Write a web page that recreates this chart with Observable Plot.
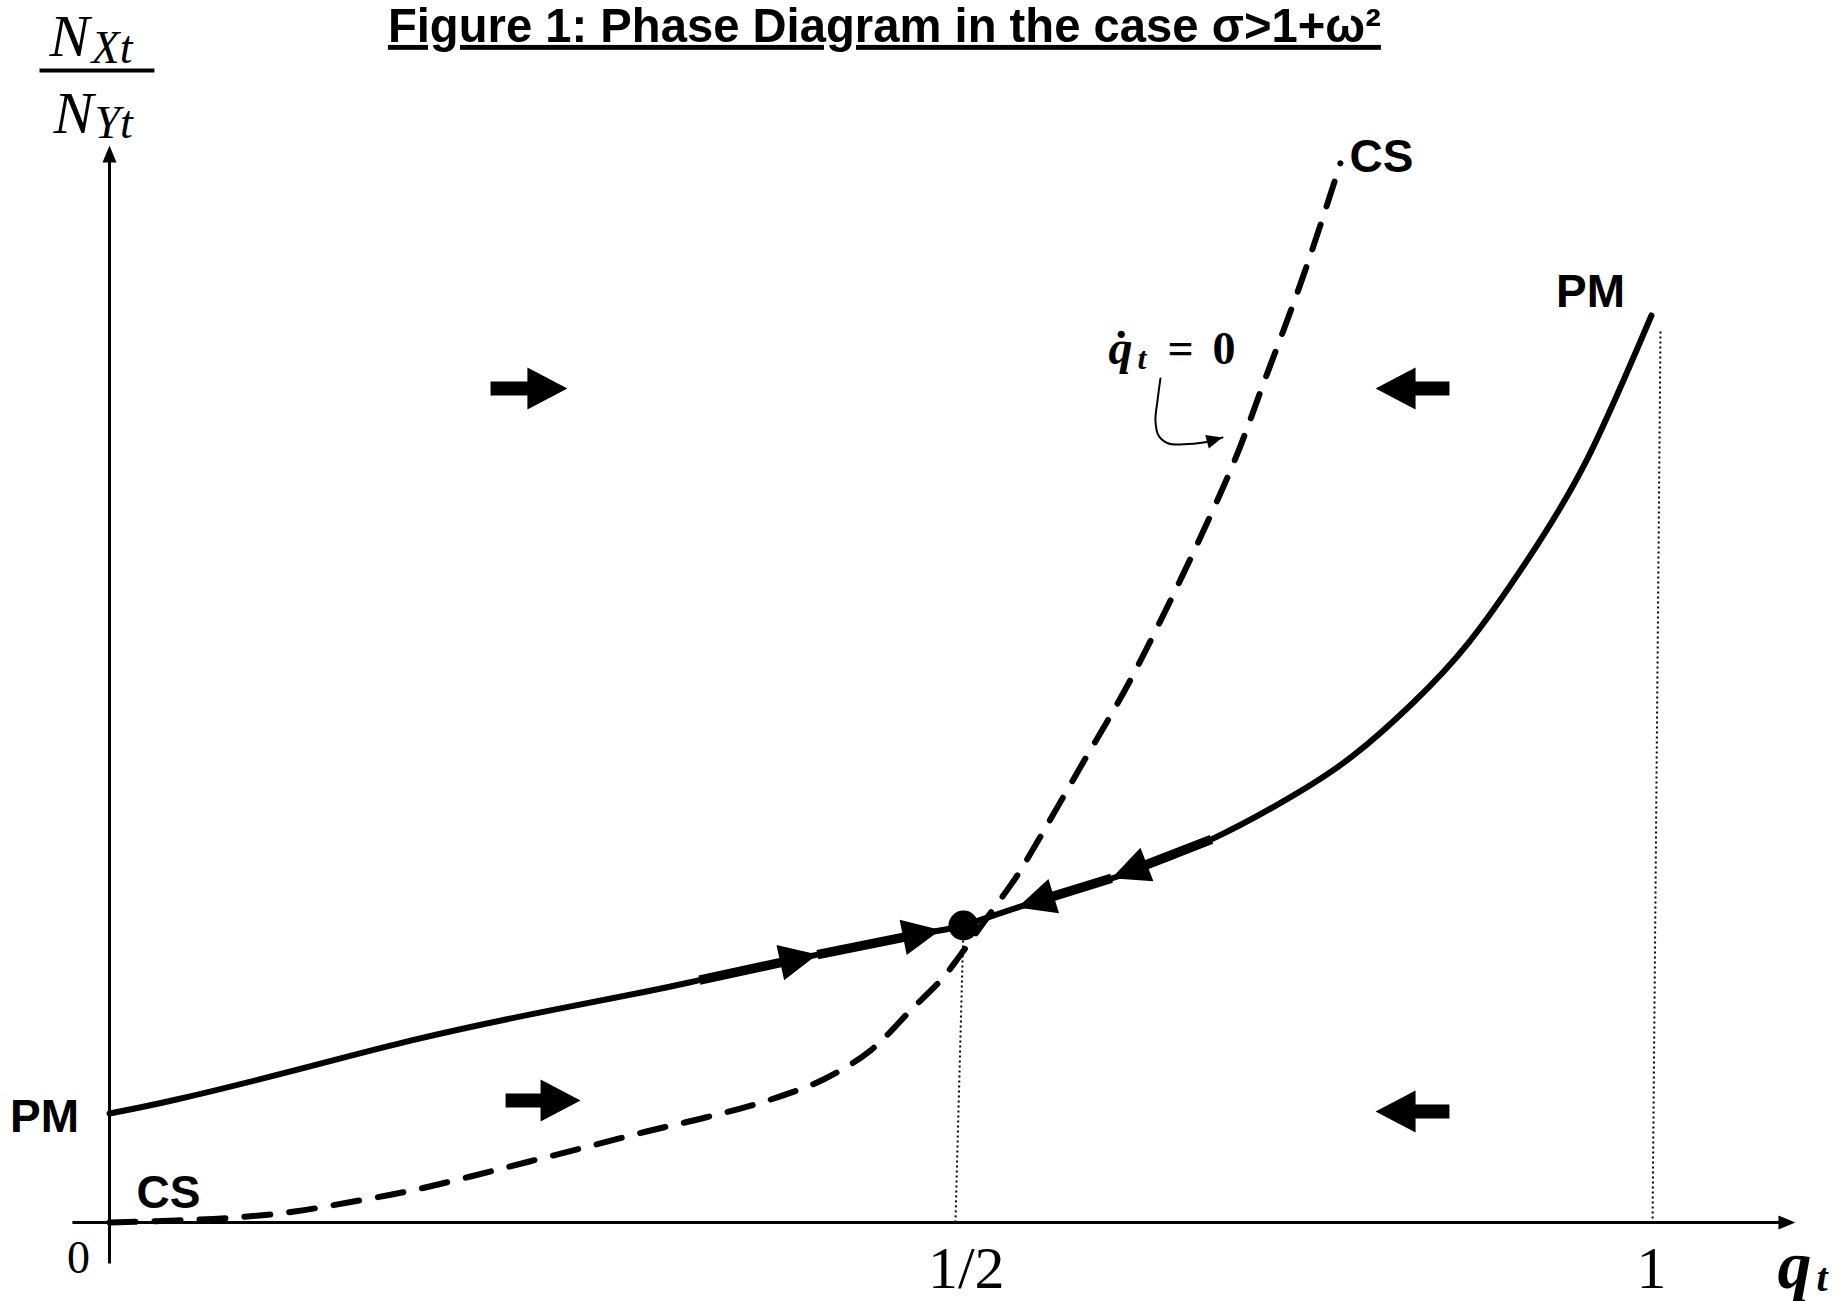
<!DOCTYPE html>
<html>
<head>
<meta charset="utf-8">
<script src="https://cdn.jsdelivr.net/npm/d3@7"></script>
<script src="https://cdn.jsdelivr.net/npm/@observablehq/plot@0.6"></script>
<style>
  html, body { margin: 0; padding: 0; background: #fff; }
  #chart svg { display: block; }
</style>
</head>
<body>
<div id="chart"></div>
<script>
// ---------- data (q = x value, ratio = N_X/N_Y) ----------
const pmQ     = [0, 0.0392, 0.1083, 0.1768, 0.2459, 0.3144, 0.3454, 0.4040, 0.4731, 0.5, 0.5430, 0.6105, 0.6779, 0.7367, 0.7790, 0.8214, 0.8630, 0.9053, 0.9476, 0.9935];
const pmRatio = [0.367, 0.414, 0.512, 0.613, 0.700, 0.778, 0.816, 0.889, 0.970, 1.0, 1.067, 1.165, 1.290, 1.438, 1.570, 1.745, 1.956, 2.236, 2.572, 3.054];

const csQ     = [0, 0.0392, 0.0738, 0.1083, 0.1429, 0.1768, 0.2114, 0.2459, 0.2804, 0.3144, 0.3489, 0.3835, 0.4180, 0.4455, 0.4690, 0.4877, 0.4971, 0.5129, 0.5352, 0.5430, 0.5825, 0.6234, 0.6915, 0.7152, 0.7439, 0.7704];
const csRatio = [0, 0.0067, 0.0168, 0.037, 0.0707, 0.1077, 0.1549, 0.2054, 0.2559, 0.3064, 0.3535, 0.4074, 0.4815, 0.579, 0.714, 0.822, 0.892, 1.0, 1.145, 1.202, 1.522, 1.859, 2.532, 2.825, 3.189, 3.566];

const equilibrium = [{q: 0.5, ratio: 1.0}];

// dotted drop lines (top -> bottom)
const dropLines = [
  {q1: 0.5, r1: 1.0, q2: 0.4953, r2: 0},
  {q1: 1.0, r1: 3.0, q2: 0.9943, r2: 0}
];

// motion arrows along PM: tail -> tip
const pmArrows = [
  {tailQ: 0.3454, tailR: 0.816, tipQ: 0.4145, tipR: 0.902},
  {tailQ: 0.4145, tailR: 0.902, tipQ: 0.4865, tipR: 0.985},
  {tailQ: 0.6779, tailR: 1.290, tipQ: 0.6062, tipR: 1.159},
  {tailQ: 0.6062, tailR: 1.159, tipQ: 0.5387, tipR: 1.061}
];

// block arrows in the regions: tail -> tip
const fieldArrows = [
  {tailQ: 0.2231, tailR: 2.808, tipQ: 0.2681, tipR: 2.808},
  {tailQ: 0.8486, tailR: 2.808, tipQ: 0.7956, tipR: 2.808},
  {tailQ: 0.2319, tailR: 0.411, tipQ: 0.2758, tipR: 0.411},
  {tailQ: 0.8486, tailR: 0.374, tipQ: 0.7956, tipR: 0.374}
];

// axes: tail -> tip
const axes = [
  {tailQ: -0.0217, tailR: 0, tipQ: 1.0968, tipR: 0},
  {tailQ: 0, tailR: -0.138, tipQ: 0, tipR: 3.626}
];

// pointer from the "q̇t = 0" label to CS
const pointerQ = [0.6413, 0.6392, 0.6377, 0.6399, 0.6471, 0.6578, 0.6722, 0.6858];
const pointerR = [2.842, 2.768, 2.700, 2.650, 2.623, 2.620, 2.626, 2.643];

// texts
const titleText = "Figure 1: Phase Diagram in the case σ>1+ω²";
const titleAnchor = [{q: 0.4537, ratio: 3.975}];
const curveLabels = [
  {text: "PM", q: -0.038, ratio: 0.354},
  {text: "CS", q: 0.0345, ratio: 0.098},
  {text: "CS", q: 0.7999, ratio: 3.586},
  {text: "PM", q: 0.9498, ratio: 3.131}
];
const zeroLabel = [{text: "0", q: -0.0181, ratio: -0.121}];
const tickLabels = [
  {text: "1/2", q: 0.502, ratio: -0.155},
  {text: "1", q: 0.9935, ratio: -0.155}
];
const qLabel = [{text: "q", q: 1.0839, ratio: -0.219}];
const qSub = [{text: "t", q: 1.1119, ratio: -0.229}];
const yLabelMain = [
  {text: "N", q: -0.0351, ratio: 3.929},
  {text: "N", q: -0.0328, ratio: 3.670}
];
const yLabelSub = [
  {text: "Xt", q: -0.0105, ratio: 3.905},
  {text: "Yt", q: -0.0088, ratio: 3.650}
];
const fractionBar = [{q1: -0.041, q2: 0.0263, r: 3.879}];
const nullclineVar = [{text: "q\u0307", q: 0.6040, ratio: 2.892}];
const nullclineSub = [{text: "t", q: 0.6248, ratio: 2.875}];
const nullclineRest = [
  {text: "=", q: 0.6463, ratio: 2.892},
  {text: "0", q: 0.6786, ratio: 2.892}
];

// ---------- scales ----------
// the drawing is not to scale: q = 1/2 sits at 55% of the way from 0 to 1
const HALF_POS = 0.5506;
const qToU = d3.scaleLinear().domain([0, 0.5, 1]).range([0, HALF_POS, 1]);
const X_RANGE = [109, 1660];
const Y_DOMAIN = [0, 1];
const Y_RANGE = [1222, 925];

const pm = pmQ.map((q, i) => ({q, ratio: pmRatio[i]}));
const cs = csQ.map((q, i) => ({q, ratio: csRatio[i]}));
const pointer = pointerQ.map((q, i) => ({q, ratio: pointerR[i]}));

// same mapping as the plot's scales, used to shape arrow outlines in screen space
const xLin = d3.scaleLinear().domain([0, 1]).range(X_RANGE);
const X = (q) => xLin(qToU(q));
X.invert = (px) => qToU.invert(xLin.invert(px));
const Y = d3.scaleLinear().domain(Y_DOMAIN).range(Y_RANGE);

function arrowShape(id, a, shaft, headLen, headW) {
  const x0 = X(a.tailQ), y0 = Y(a.tailR);
  const x1 = X(a.tipQ), y1 = Y(a.tipR);
  const L = Math.hypot(x1 - x0, y1 - y0);
  const ux = (x1 - x0) / L, uy = (y1 - y0) / L;
  const nx = -uy, ny = ux;
  const bx = x1 - ux * headLen, by = y1 - uy * headLen;
  const s = shaft / 2, h = headW / 2;
  const pts = [
    [x0 + nx * s, y0 + ny * s], [bx + nx * s, by + ny * s], [bx + nx * h, by + ny * h],
    [x1, y1],
    [bx - nx * h, by - ny * h], [bx - nx * s, by - ny * s], [x0 - nx * s, y0 - ny * s]
  ];
  return pts.map(([px, py]) => ({id, q: X.invert(px), ratio: Y.invert(py)}));
}

const axisShapes = axes.flatMap((a, i) => arrowShape("axis" + i, a, 3, 17, 14));
const pmArrowShapes = pmArrows.flatMap((a, i) => arrowShape("pm" + i, a, 9.5, 38, 36));
const fieldShapes = fieldArrows.flatMap((a, i) => arrowShape("field" + i, a, 14, 40, 42));
const n = pointer.length;
const pointerHead = arrowShape("ptr", {tailQ: pointer[n - 2].q, tailR: pointer[n - 2].ratio, tipQ: pointer[n - 1].q, tipR: pointer[n - 1].ratio}, 0, 16, 14);

const SANS = "'Liberation Sans', Arial, Helvetica, sans-serif";
const SERIF = "'Liberation Serif', 'Times New Roman', serif";

const chart = Plot.plot({
  width: 1843,
  height: 1301,
  margin: 0,
  x: {transform: qToU, domain: [0, 1], range: X_RANGE, axis: null},
  y: {domain: Y_DOMAIN, range: Y_RANGE, axis: null},
  style: {background: "white", overflow: "visible", color: "black"},
  marks: [
    Plot.link(dropLines, {x1: "q1", y1: "r1", x2: "q2", y2: "r2", stroke: "black", strokeWidth: 2, strokeDasharray: "2,3"}),
    Plot.line(axisShapes, {x: "q", y: "ratio", z: "id", fill: "black", stroke: "none"}),
    Plot.line(cs, {x: "q", y: "ratio", curve: "catmull-rom", stroke: "black", strokeWidth: 6, strokeDasharray: "26,19"}),
    Plot.line(pm, {x: "q", y: "ratio", curve: "natural", stroke: "black", strokeWidth: 6}),
    Plot.line(pmArrowShapes, {x: "q", y: "ratio", z: "id", fill: "black", stroke: "none"}),
    Plot.dot(equilibrium, {x: "q", y: "ratio", r: 15, fill: "black", stroke: "none"}),
    Plot.line(fieldShapes, {x: "q", y: "ratio", z: "id", fill: "black", stroke: "none"}),
    Plot.line(pointer, {x: "q", y: "ratio", curve: "catmull-rom", stroke: "black", strokeWidth: 2}),
    Plot.line(pointerHead, {x: "q", y: "ratio", z: "id", fill: "black", stroke: "none"}),
    Plot.link(fractionBar, {x1: "q1", x2: "q2", y1: "r", y2: "r", stroke: "black", strokeWidth: 4}),
    Plot.text(titleAnchor, {x: "q", y: "ratio", text: () => titleText, fontFamily: SANS, fontWeight: "bold", fontSize: 49, textAnchor: "middle", lineAnchor: "bottom", fill: "black"}),
    Plot.text(curveLabels, {x: "q", y: "ratio", text: "text", fontFamily: SANS, fontWeight: "bold", fontSize: 46, textAnchor: "middle", lineAnchor: "middle", fill: "black"}),
    Plot.text(zeroLabel, {x: "q", y: "ratio", text: "text", fontFamily: SERIF, fontSize: 46, textAnchor: "middle", lineAnchor: "middle", fill: "black"}),
    Plot.text(tickLabels, {x: "q", y: "ratio", text: "text", fontFamily: SERIF, fontSize: 60, textAnchor: "middle", lineAnchor: "middle", fill: "black"}),
    Plot.text(qLabel, {x: "q", y: "ratio", text: "text", fontFamily: SERIF, fontStyle: "italic", fontWeight: "bold", fontSize: 68, textAnchor: "start", lineAnchor: "bottom", fill: "black"}),
    Plot.text(qSub, {x: "q", y: "ratio", text: "text", fontFamily: SERIF, fontStyle: "italic", fontWeight: "bold", fontSize: 40, textAnchor: "start", lineAnchor: "bottom", fill: "black"}),
    Plot.text(yLabelMain, {x: "q", y: "ratio", text: "text", fontFamily: SERIF, fontStyle: "italic", fontSize: 60, textAnchor: "start", lineAnchor: "bottom", fill: "black"}),
    Plot.text(yLabelSub, {x: "q", y: "ratio", text: "text", fontFamily: SERIF, fontStyle: "italic", fontSize: 46, textAnchor: "start", lineAnchor: "bottom", fill: "black"}),
    Plot.text(nullclineVar, {x: "q", y: "ratio", text: "text", fontFamily: SERIF, fontStyle: "italic", fontWeight: "bold", fontSize: 48, textAnchor: "start", lineAnchor: "bottom", fill: "black"}),
    Plot.text(nullclineSub, {x: "q", y: "ratio", text: "text", fontFamily: SERIF, fontStyle: "italic", fontWeight: "bold", fontSize: 32, textAnchor: "start", lineAnchor: "bottom", fill: "black"}),
    Plot.text(nullclineRest, {x: "q", y: "ratio", text: "text", fontFamily: SERIF, fontWeight: "bold", fontSize: 46, textAnchor: "start", lineAnchor: "bottom", fill: "black"})
  ]
});

// underline and fit the title to its width in the original
d3.select(chart).selectAll("text")
  .filter(function () { return this.textContent === titleText; })
  .style("text-decoration", "underline")
  .attr("textLength", 993)
  .attr("lengthAdjust", "spacingAndGlyphs");

document.getElementById("chart").appendChild(chart);
</script>
</body>
</html>
